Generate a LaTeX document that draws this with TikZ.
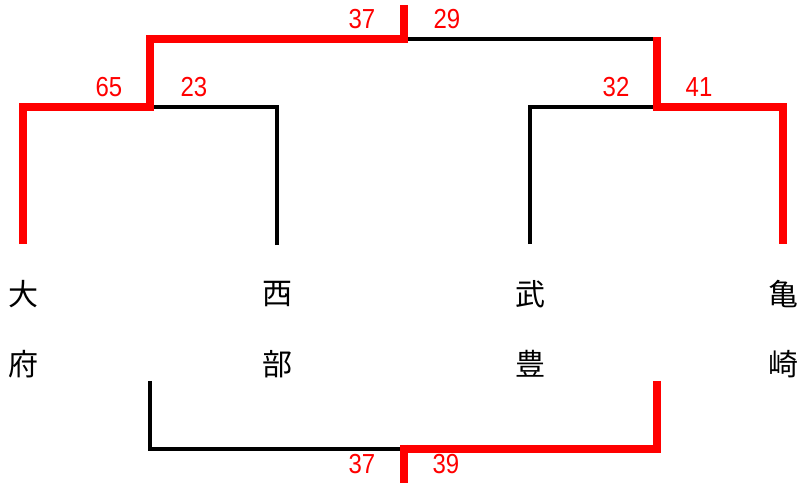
\documentclass[tikz,border=0pt]{standalone}
\usepackage{fontspec}
\newfontfamily\teamfont{Noto Sans CJK JP}
\newfontfamily\scorefont[FakeStretch=0.87]{Liberation Sans}
\tikzset{
  win/.style={draw=red, line width=6.4pt, line join=miter},
  lose/.style={draw=black, line width=2.6pt},
  team/.style={font=\teamfont\fontsize{25.6pt}{25.6pt}\selectfont, inner sep=0pt},
  score/.style={text=red, font=\scorefont\fontsize{23.5pt}{23.5pt}\selectfont, inner sep=0pt},
}

\begin{document}
\begin{tikzpicture}[x=0.03cm, y=-0.03cm]
            \useasboundingbox (0,0) rectangle (801,486);
            % teams
            \foreach \x/\a/\b/\n in {23/大/府/obu,277/西/部/seibu,530/武/豊/taketoyo,783/亀/崎/kamezaki}
            {
              \node[team] (\n1) at (\x,294) {\a};
              \node[team] (\n2) at (\x,364) {\b};
            }
            \coordinate (semi1) at (150,107);
            \coordinate (semi2) at (657,107);
            \coordinate (final) at (404,39);
            \coordinate (third1) at (150,381);
            \coordinate (third2) at (657,381);
            \coordinate (third) at (404,449);
            % losers first
            \draw[lose] (seibu1.north) ++(0,-36) |- (semi1);
            \draw[lose] (taketoyo1.north) ++(0,-36) |- (semi2);
            \draw[lose] (final) -- (semi2 |- final);
            \draw[lose] (third1) |- (third);
            % winners
            \draw[win] (obu1.north) ++(0,-36) |- (semi1) |- (final) -- ++(0,-34);
            \draw[win] (kamezaki1.north) ++(0,-36) |- (semi2) -- ++(0,-70);
            \draw[win] (third2) |- (third);
            \draw[win] (third) ++(0,-4) -- ++(0,38);
            % scores
            \foreach \x/\y/\s/\n in {109/87/65/s1,194/87/23/s2,362/19/37/s3,447/19/29/s4,616/87/32/s5,699/87/41/s6,362/464/37/s7,446/464/39/s8}
              \node[score] (\n) at (\x,\y) {\s};
        \end{tikzpicture}
\end{document}
